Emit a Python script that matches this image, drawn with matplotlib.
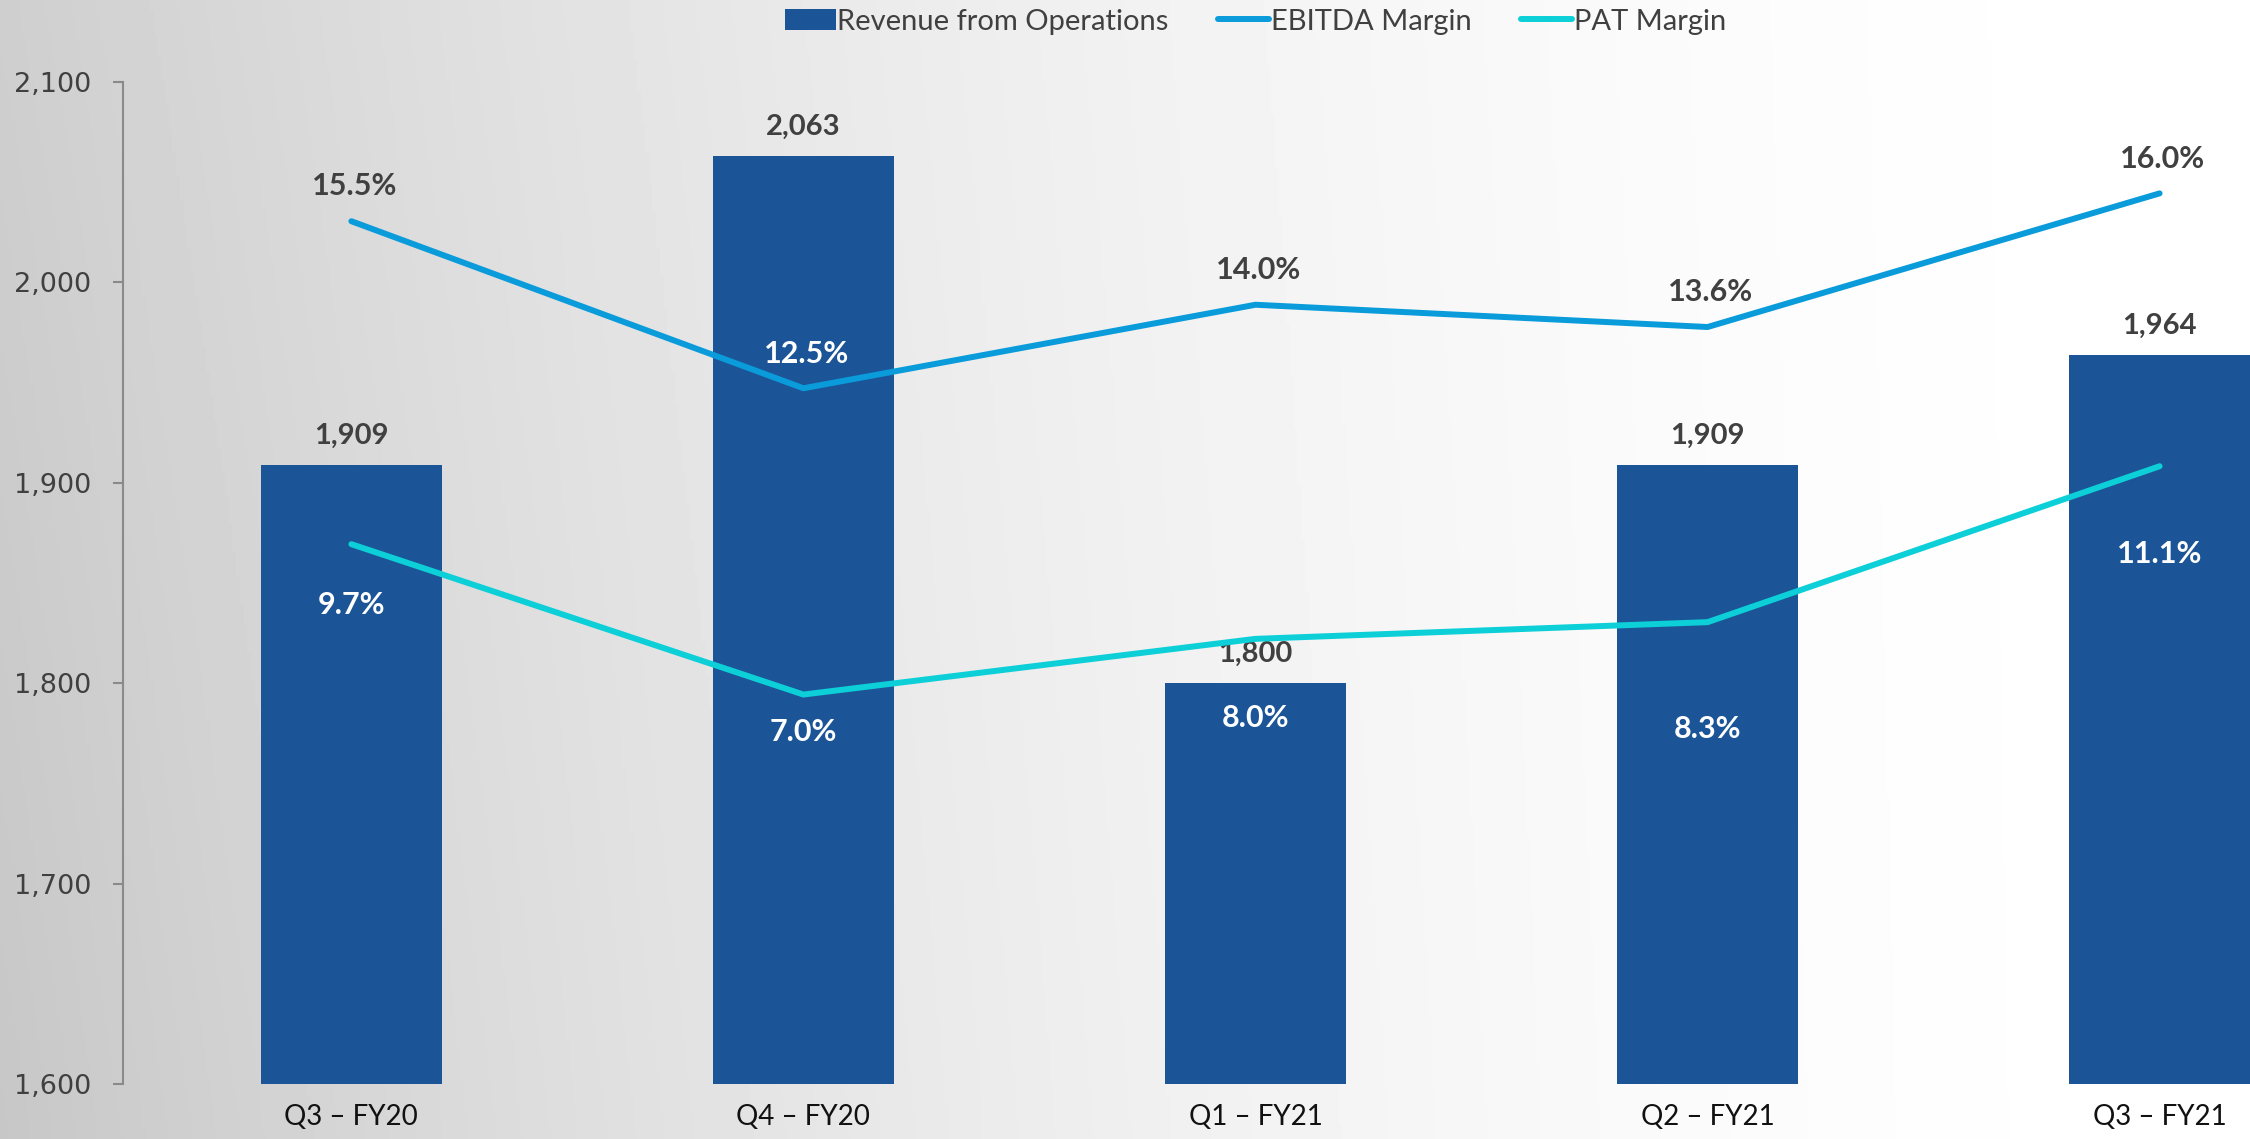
import matplotlib.pyplot as plt
from matplotlib.lines import Line2D
from matplotlib.patches import Patch
import numpy as np

quarters = ["Q3 – FY20", "Q4 – FY20", "Q1 – FY21", "Q2 – FY21", "Q3 – FY21"]
revenue = [1909, 2063, 1800, 1909, 1964]
ebitda_margin = [15.5, 12.5, 14.0, 13.6, 16.0]
pat_margin = [9.7, 7.0, 8.0, 8.3, 11.1]

BAR_COLOR = "#1b5597"
EBITDA_COLOR = "#0a9bdb"
PAT_COLOR = "#0ccfd8"
DARK = "#404040"
FONT = "Lato"

# label offsets in points (PAT labels were nudged by hand in the original)
pat_offsets = [-44, -27, -57, -77, -63]
ebitda_label_colors = [DARK, "white", DARK, DARK, DARK]


def main():
    fig = plt.figure(figsize=(22.5, 11.39), dpi=100)

    # soft grey-to-white background
    bg = fig.add_axes([0, 0, 1, 1], zorder=-10)
    gx = np.linspace(0, 1, 600)
    gy = np.linspace(0, 1, 300)[:, None]
    shade = 1 - (0.19 + 0.03 * (1 - gy)) * (1 - gx) ** 1.8
    bg.imshow(shade, aspect="auto", cmap="gray", vmin=0, vmax=1,
              extent=[0, 1, 0, 1], origin="lower")
    bg.axis("off")

    ax = fig.add_axes([0.0547, 0.048, 0.9453, 0.880])
    ax.set_facecolor("none")
    x = np.arange(len(quarters))

    ax.bar(x, revenue, width=0.4, color=BAR_COLOR, zorder=2)
    ax.set_xlim(-0.505, 4.2)
    ax.set_ylim(1600, 2100)
    ticks = np.arange(1600, 2101, 100)
    ax.set_yticks(ticks)
    ax.set_yticklabels([f"{v:,}" for v in ticks],
                       fontsize=19.5, color=DARK, family="DejaVu Sans")
    ax.set_xticks(x)
    ax.set_xticklabels(quarters, fontsize=20, family=FONT, color="#111111")
    ax.tick_params(axis="x", length=0, pad=14)
    ax.tick_params(axis="y", length=7, width=1.5, color="#8a8a8a", pad=16)
    for side in ["top", "right", "bottom"]:
        ax.spines[side].set_visible(False)
    ax.spines["left"].set_color("#8a8a8a")
    ax.spines["left"].set_linewidth(1.5)

    for xi, v in zip(x, revenue):
        ax.annotate(f"{v:,}", (xi, v), xytext=(0, 21), textcoords="offset points",
                    ha="center", va="center", fontsize=21, fontweight="bold",
                    family=FONT, color=DARK, zorder=5)

    ax2 = ax.twinx()
    ax2.set_ylim(0, 18)
    ax2.axis("off")
    ax2.plot(x, ebitda_margin, color=EBITDA_COLOR, lw=4.3,
             solid_capstyle="round", zorder=3)
    ax2.plot(x, pat_margin, color=PAT_COLOR, lw=4.3,
             solid_capstyle="round", zorder=3)

    for xi, v, c in zip(x, ebitda_margin, ebitda_label_colors):
        ax2.annotate(f"{v:.1f}%", (xi, v), xytext=(2, 25), textcoords="offset points",
                     ha="center", va="center", fontsize=22, fontweight="bold",
                     family=FONT, color=c, zorder=5)
    for xi, v, off in zip(x, pat_margin, pat_offsets):
        ax2.annotate(f"{v:.1f}%", (xi, v), xytext=(0, off), textcoords="offset points",
                     ha="center", va="center", fontsize=22, fontweight="bold",
                     family=FONT, color="white", zorder=5)

    handles = [
        Patch(facecolor=BAR_COLOR, label="Revenue from Operations"),
        Line2D([], [], color=EBITDA_COLOR, lw=4.3, solid_capstyle="round",
               label="EBITDA Margin"),
        Line2D([], [], color=PAT_COLOR, lw=4.3, solid_capstyle="round",
               label="PAT Margin"),
    ]
    fig.legend(handles=handles, loc="center", bbox_to_anchor=(0.558, 0.981),
               ncol=3, frameon=False, prop={"family": FONT, "size": 21},
               labelcolor=DARK, handlelength=1.75, handletextpad=0.05,
               columnspacing=1.7)

    fig.savefig("out.png", dpi=100)


if __name__ == "__main__":
    main()
